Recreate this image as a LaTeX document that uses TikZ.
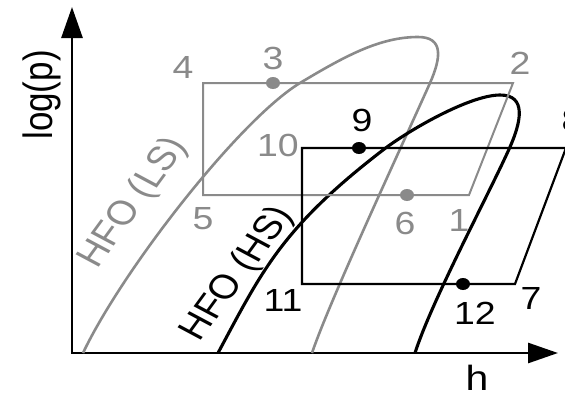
\documentclass[tikz,border=0pt]{standalone}
\usepackage{fontspec}
\setmainfont{Liberation Sans}
\usetikzlibrary{arrows.meta,shapes.geometric}
\definecolor{lsgrey}{RGB}{138,138,138}
\begin{document}
\begin{tikzpicture}[x=1pt,y=-1pt,
  axis/.style={line width=2.8pt, line join=miter,
    {Triangle[length=31pt,width=21pt]}-{Triangle[length=30pt,width=20pt]}},
  gcurve/.style={lsgrey, line width=2.6pt, line join=round},
  bcurve/.style={black, line width=3.1pt, line join=round},
  gcycle/.style={lsgrey, line width=2.0pt, line join=miter},
  bcycle/.style={black, line width=2.2pt, line join=miter},
  numlab/.style={inner sep=0pt, xscale=1.17, font=\fontsize{32}{32}\selectfont},
  glab/.style={numlab, text=lsgrey},
  blab/.style={numlab, text=black},
  axlab/.style={inner sep=0pt, xscale=1.17, font=\fontsize{35}{35}\selectfont},
  fluidlab/.style={inner sep=0pt, xscale=1.17, rotate=58, font=\fontsize{34}{34}\selectfont},
  gdot/.style={ellipse, fill=lsgrey, inner sep=0pt, minimum width=14pt, minimum height=12pt},
  bdot/.style={ellipse, fill=black, inner sep=0pt, minimum width=14pt, minimum height=12pt},
]
\useasboundingbox (0,0) rectangle (565,397);

% axes
\coordinate (O) at (72,353);
\coordinate (ytip) at (72,7);
\coordinate (xtip) at (558,353);
\draw[axis] (ytip) -- (O) -- (xtip);
\node[axlab, rotate=90] (ylab) at (42,95) {log(p)};
\node[axlab] (xlab) at (477,378) {h};

% grey (LS) saturation curve
\draw[gcurve] (83,353) .. controls (123,269) and (240,119.4) .. (300,83)
  .. controls (345,56) and (380,37) .. (418,37)
  .. controls (444,37) and (441,58) .. (430,83)
  .. controls (400,150) and (330,300) .. (312,353);

% black (HS) saturation curve
\draw[bcurve] (218,353) .. controls (262,271) and (281.6,228) .. (383,150)
  .. controls (409,130) and (470,95) .. (500,95)
  .. controls (527,95) and (521,122) .. (510,147)
  .. controls (490,192) and (432,300) .. (415,353);

% grey cycle
\coordinate (g4) at (203,83);
\coordinate (g2) at (513,83);
\coordinate (g1) at (469,195);
\coordinate (g5) at (203,195);
\draw[gcycle] (g4) -- (g2) -- (g1) -- (g5) -- cycle;
\node[gdot] (p3) at (273,83) {};
\node[gdot] (p6) at (407,195) {};

% black cycle
\coordinate (b10) at (302,148);
\coordinate (b8) at (566,148);
\coordinate (b7) at (515,284);
\coordinate (b11) at (302,284);
\draw[bcycle] (b10) -- (b8) -- (b7) -- (b11) -- cycle;
\node[bdot] (p9) at (359,148) {};
\node[bdot] (p12) at (463,284) {};

% state labels
\node[glab] (l4) at (183,67) {4};
\node[glab] (l3) at (273,58) {3};
\node[glab] (l2) at (520,63) {2};
\node[glab] (l10) at (278,145) {10};
\node[glab] (l5) at (203,219) {5};
\node[glab] (l6) at (405,223) {6};
\node[glab] (l1) at (459,220) {1};
\node[blab] (l9) at (362,120) {9};
\node[blab] (l8) at (572,120) {8};
\node[blab] (l11) at (283,300) {11};
\node[blab] (l12) at (475,313) {12};
\node[blab] (l7) at (531,298) {7};

% fluid labels
\node[fluidlab, text=lsgrey] (ls) at (134,203) {HFO (LS)};
\node[fluidlab, text=black] (hs) at (238,274) {HFO (HS)};
\end{tikzpicture}
\end{document}
